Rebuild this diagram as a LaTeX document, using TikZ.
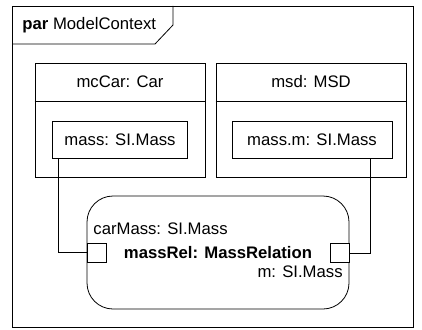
\documentclass[tikz,border=0pt]{standalone}
\usepackage{fontspec}
\setmainfont{Liberation Sans}
\begin{document}
\begin{tikzpicture}[x=1pt,y=-1pt,line width=0.8pt,
  font=\fontsize{16.7}{19}\selectfont,
  blockbox/.style={draw,rectangle,inner sep=0pt},
  lbl/.style={inner sep=0pt,anchor=base},
  portbox/.style={draw,fill=white,rectangle,inner sep=0pt,minimum width=19pt,minimum height=19pt}]
  \useasboundingbox (0,0) rectangle (422,329);
  % diagram frame and its name tab
  \draw (12,6) rectangle (413,327);
  \draw (12,44) -- (155,44) -- (173,25) -- (173,6);
  \node[lbl,anchor=base west] (title) at (22,30) {\textbf{par} ModelContext};

  % part mcCar
  \node[blockbox,minimum width=170pt,minimum height=114pt] (car) at (120,120) {};
  \draw (car.west |- 0,101) -- (car.east |- 0,101);
  \node[lbl] (carname) at (120,87) {mcCar: Car};
  \node[blockbox,minimum width=135pt,minimum height=37pt] (massA) at (119.5,139.5) {};
  \node[lbl] (massAtext) at (120,145) {mass: SI.Mass};

  % part msd
  \node[blockbox,minimum width=190pt,minimum height=114pt] (msd) at (311,120) {};
  \draw (msd.west |- 0,101) -- (msd.east |- 0,101);
  \node[lbl] (msdname) at (311,87) {msd: MSD};
  \node[blockbox,minimum width=160pt,minimum height=37pt] (massB) at (312,139.5) {};
  \node[lbl] (massBtext) at (312,145) {mass.m: SI.Mass};

  % constraint property
  \node[draw,rectangle,rounded corners=26pt,inner sep=0pt,minimum width=262pt,minimum height=113pt] (rel) at (218,252.5) {};
  \node[lbl,anchor=base west] (carMass) at (93,234) {carMass: SI.Mass};
  \node[lbl,font=\fontsize{16.7}{19}\selectfont\bfseries] (relname) at (218,258) {massRel: MassRelation};
  \node[lbl,anchor=base east] (mparam) at (343,277) {m: SI.Mass};
  \node[portbox,anchor=west] (portL) at (rel.west |- 0,252.5) {};
  \node[portbox,anchor=east] (portR) at (rel.east |- 0,253) {};

  % binding connectors
  \draw ([xshift=7pt]massA.south west) |- (portL.west);
  \draw ([xshift=-22pt]massB.south east) |- (portR.east);
\end{tikzpicture}
\end{document}
